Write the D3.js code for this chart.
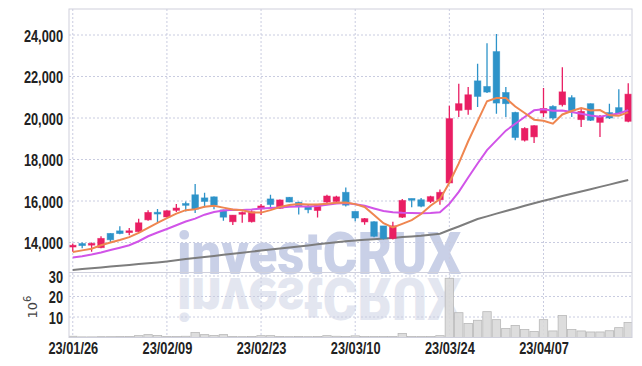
<!DOCTYPE html>
<html><head><meta charset="utf-8">
<script src="https://cdn.jsdelivr.net/npm/d3@7"></script>
<style>body{margin:0;background:#fff}svg{display:block}</style>
</head><body><svg id="c" width="642" height="366"></svg>
<script>
const dates = ["23/01/26","23/01/27","23/01/30","23/01/31","23/02/01","23/02/02","23/02/03","23/02/06","23/02/07","23/02/08",
"23/02/09","23/02/10","23/02/13","23/02/14","23/02/15","23/02/16","23/02/17","23/02/20","23/02/21","23/02/22",
"23/02/23","23/02/24","23/02/27","23/02/28","23/03/02","23/03/03","23/03/06","23/03/07","23/03/08","23/03/09",
"23/03/10","23/03/13","23/03/14","23/03/15","23/03/16","23/03/17","23/03/20","23/03/21","23/03/22","23/03/23",
"23/03/24","23/03/27","23/03/28","23/03/29","23/03/30","23/03/31","23/04/03","23/04/04","23/04/05","23/04/06",
"23/04/07","23/04/10","23/04/11","23/04/12","23/04/13","23/04/14","23/04/17","23/04/18","23/04/19","23/04/20"];
const openP = [13800,13950,13880,13750,14440,14560,14480,14520,15090,15450,
15230,15550,15870,16300,16150,16200,15570,15000,15380,15000,
15620,16100,15650,16180,15940,15720,15540,15950,15980,16420,
15500,14990,15000,14800,14200,15220,16100,16060,15980,16060,
16870,20370,20400,21790,21520,23200,21230,20270,18930,19090,
20240,20560,20640,20980,19920,20690,19790,20260,20500,19840];
const highP = [13950,14000,14000,14300,14450,14780,14700,15150,15550,15620,
15560,15860,15970,16820,16400,16220,15580,15330,15500,15550,
15850,16300,16070,16190,15960,15850,15850,16300,16250,16650,
15500,15180,15030,14800,15000,16100,16110,16150,16250,16550,
20590,21650,21490,22610,23600,24050,21490,20300,19550,19650,
21440,20620,22450,21100,20460,20700,20150,20690,21390,21680];
const lowP = [13550,13720,13550,13720,14000,14400,14350,14480,15050,14950,
15200,15470,15490,15420,15700,15600,15050,14840,14950,14960,
15330,15690,15620,15940,15350,15410,15200,15880,15950,15730,
15020,14860,14250,14150,14150,15180,15700,15700,15900,15820,
16850,20050,20160,20530,21200,20210,20050,18930,18870,18800,
20050,19920,20560,20050,19570,19850,19090,19950,20210,19790];
const closeP = [13850,13850,13950,14200,14130,14430,14560,14950,15450,15380,
15530,15660,15800,15610,15980,15800,15220,15320,15430,15480,
15760,15830,16050,15950,15730,15580,15840,16240,16200,15800,
15180,15150,14300,14200,14800,16030,16060,15750,16210,16420,
19970,20690,21120,21040,21250,20720,20690,19060,19500,19630,
20460,20000,21260,20350,20320,19890,20080,20000,20240,21150];
const ma5 = [13540,13620,13700,13870,14000,14120,14260,14460,14710,14950,
15170,15390,15560,15600,15720,15770,15680,15590,15550,15450,
15440,15560,15710,15810,15860,15830,15830,15870,15920,15930,
15850,15710,15330,14930,14730,14900,15080,15370,15770,16090,
16880,17810,18880,19850,20810,20960,20960,20550,20240,19920,
19870,19730,20170,20340,20480,20360,20380,20130,20110,20270];
const ma10 = [13280,13340,13420,13520,13640,13750,13870,14060,14300,14480,
14650,14830,15010,15150,15340,15470,15540,15580,15570,15590,
15640,15660,15690,15720,15730,15730,15760,15820,15880,15900,
15840,15770,15640,15520,15460,15430,15420,15410,15420,15460,
15860,16440,17130,17810,18450,18920,19390,19720,20050,20370,
20420,20350,20360,20290,20200,20120,20060,20150,20220,20380];
const ma60 = [12680,12720,12760,12800,12840,12880,12920,12960,13000,13040,
13090,13140,13200,13250,13300,13350,13410,13460,13510,13560,
13610,13660,13710,13760,13810,13860,13910,13960,14010,14060,
14100,14130,14160,14190,14220,14260,14290,14320,14370,14420,
14600,14770,14950,15130,15260,15390,15520,15640,15770,15890,
16010,16120,16240,16350,16460,16570,16680,16790,16900,17010];
const volume = [0.6,0.3,0.3,0.4,0.4,0.5,0.5,0.9,1.4,1.0,
0.5,0.5,0.6,2.4,1.4,1.0,1.4,0.5,0.4,0.5,
0.9,0.9,0.5,0.4,0.5,0.4,0.5,0.9,0.6,0.5,
0.8,0.5,0.5,0.5,0.5,2.0,0.5,0.5,0.5,0.9,
28.9,12.1,6.8,8.4,12.6,8.7,4.4,5.9,3.9,2.9,
8.7,3.2,10.7,3.9,3.2,2.7,2.7,3.3,4.8,7.3];
const priceTicks = [14000,16000,18000,20000,22000,24000];
const volTicks = [10,20,30];
const dateTicks = [0,10,20,30,40,50];

const svg = d3.select("#c");
const L = 69, R = 632, T = 9, MID = 272.5, B = 337.5;
const x = d3.scaleLinear().domain([-0.4, 59.4]).range([L, R]);
const y = d3.scaleLinear().domain([14000, 24000]).range([242.5, 35]);
const yv = d3.scaleLinear().domain([0, 30]).range([B, 276]);
const idx = d3.range(dates.length);
const gridC = "#c9cce0";
const upC = "#e91e63", downC = "#2d93c9";

const defs = svg.append("defs");
defs.append("clipPath").attr("id","cp").append("rect").attr("x",L).attr("y",T).attr("width",R-L).attr("height",MID-T);
defs.append("clipPath").attr("id","cv").append("rect").attr("x",L).attr("y",MID).attr("width",R-L).attr("height",B-MID);

// watermark + reflection
const wmFont = "Roboto, 'DejaVu Sans', sans-serif";
const wm = svg.append("g");
wm.append("text").attr("x",177).attr("y",274).attr("font-family",wmFont).attr("font-weight",900)
  .attr("font-size",60).attr("textLength",284).attr("lengthAdjust","spacingAndGlyphs")
  .attr("fill","#c9d0e7").text("investCRUX");
wm.append("text").attr("transform","translate(0,552) scale(1,-1)").attr("x",177).attr("y",274)
  .attr("font-family",wmFont).attr("font-weight",900)
  .attr("font-size",60).attr("textLength",284).attr("lengthAdjust","spacingAndGlyphs")
  .attr("fill","#e3e6f0").text("investCRUX");

// grids
const g = svg.append("g");
g.selectAll(".hg").data(priceTicks).enter().append("line")
  .attr("x1",L).attr("x2",R).attr("y1",d=>y(d)).attr("y2",d=>y(d))
  .attr("stroke",gridC).attr("stroke-dasharray","2,2");
g.selectAll(".vg").data(volTicks).enter().append("line")
  .attr("x1",L).attr("x2",R).attr("y1",d=>yv(d)).attr("y2",d=>yv(d))
  .attr("stroke",gridC).attr("stroke-dasharray","2,2");
g.selectAll(".xg").data(dateTicks).enter().append("line")
  .attr("x1",d=>x(d)).attr("x2",d=>x(d)).attr("y1",T).attr("y2",B)
  .attr("stroke",gridC).attr("stroke-dasharray","2,2");

// volume bars
const bw = x(1)-x(0);
svg.append("g").attr("clip-path","url(#cv)").selectAll("rect").data(idx).enter().append("rect")
  .attr("x",i=>x(i)-bw/2+0.5).attr("width",bw-1).attr("y",i=>yv(volume[i])).attr("height",i=>B-yv(volume[i]))
  .attr("fill","#d9d9d9").attr("fill-opacity",0.9).attr("stroke","#b8b8b8").attr("stroke-width",0.8);

// price content
const pc = svg.append("g").attr("clip-path","url(#cp)");
const line = arr => d3.line().x(i=>x(i)).y(i=>y(arr[i]))(idx);
pc.append("path").attr("d",line(ma60)).attr("fill","none").attr("stroke","#7d7d7d").attr("stroke-width",2);

const cg = pc.append("g");
idx.forEach(i=>{
  const up = closeP[i] >= openP[i];
  const col = up ? upC : downC;
  cg.append("line").attr("x1",x(i)).attr("x2",x(i)).attr("y1",y(highP[i])).attr("y2",y(lowP[i]))
    .attr("stroke",col).attr("stroke-width",1.3);
  const top = y(Math.max(openP[i],closeP[i])), bot = y(Math.min(openP[i],closeP[i]));
  const h = Math.max(bot-top, 1.8);
  cg.append("rect").attr("x",x(i)-3.3).attr("width",6.6).attr("y",top - (h-(bot-top))/2).attr("height",h)
    .attr("fill",col).attr("stroke",col).attr("stroke-opacity",0.6).attr("stroke-width",0.8);
});
pc.append("path").attr("d",line(ma10)).attr("fill","none").attr("stroke","#d154e8").attr("stroke-width",2);
pc.append("path").attr("d",line(ma5)).attr("fill","none").attr("stroke","#ef8650").attr("stroke-width",2);

// frame
svg.append("rect").attr("x",L).attr("y",T).attr("width",R-L).attr("height",B-T).attr("fill","none").attr("stroke","#cfd0dc");
svg.append("line").attr("x1",L).attr("x2",R).attr("y1",MID).attr("y2",MID).attr("stroke","#cfd0dc");

// axes (condensed look via horizontal scaling)
const font = "'Liberation Sans', Arial, sans-serif";
const SX = 0.8;
const styleLeft = sel => { sel.select(".domain").remove(); sel.selectAll("text").attr("font-family",font)
  .attr("font-weight","bold").attr("font-size",16).attr("fill","#222")
  .attr("x",-3/SX).attr("transform",`scale(${SX},1)`); };
const styleBottom = sel => { sel.select(".domain").remove(); sel.selectAll("text").attr("font-family",font)
  .attr("font-weight","bold").attr("font-size",16).attr("fill","#222")
  .attr("transform",`scale(${SX},1)`); };
svg.append("g").attr("transform",`translate(${L-3},1)`)
  .call(d3.axisLeft(y).tickValues(priceTicks).tickSize(0).tickPadding(3).tickFormat(d3.format(",")))
  .call(styleLeft);
svg.append("g").attr("transform",`translate(${L-3},1)`)
  .call(d3.axisLeft(yv).tickValues(volTicks).tickSize(0).tickPadding(3))
  .call(styleLeft);
svg.append("g").attr("transform",`translate(0,${B})`)
  .call(d3.axisBottom(x).tickValues(dateTicks).tickSize(0).tickPadding(5).tickFormat(i=>dates[i]))
  .call(styleBottom);

// unit label
const ut = svg.append("text").attr("transform","translate(37,307) rotate(-90)").attr("text-anchor","middle")
  .attr("font-family","DejaVu Sans").attr("font-size",13).attr("fill","#444");
ut.append("tspan").text("10");
ut.append("tspan").attr("dy",-6).attr("font-size",10).text("6");
</script></body></html>
